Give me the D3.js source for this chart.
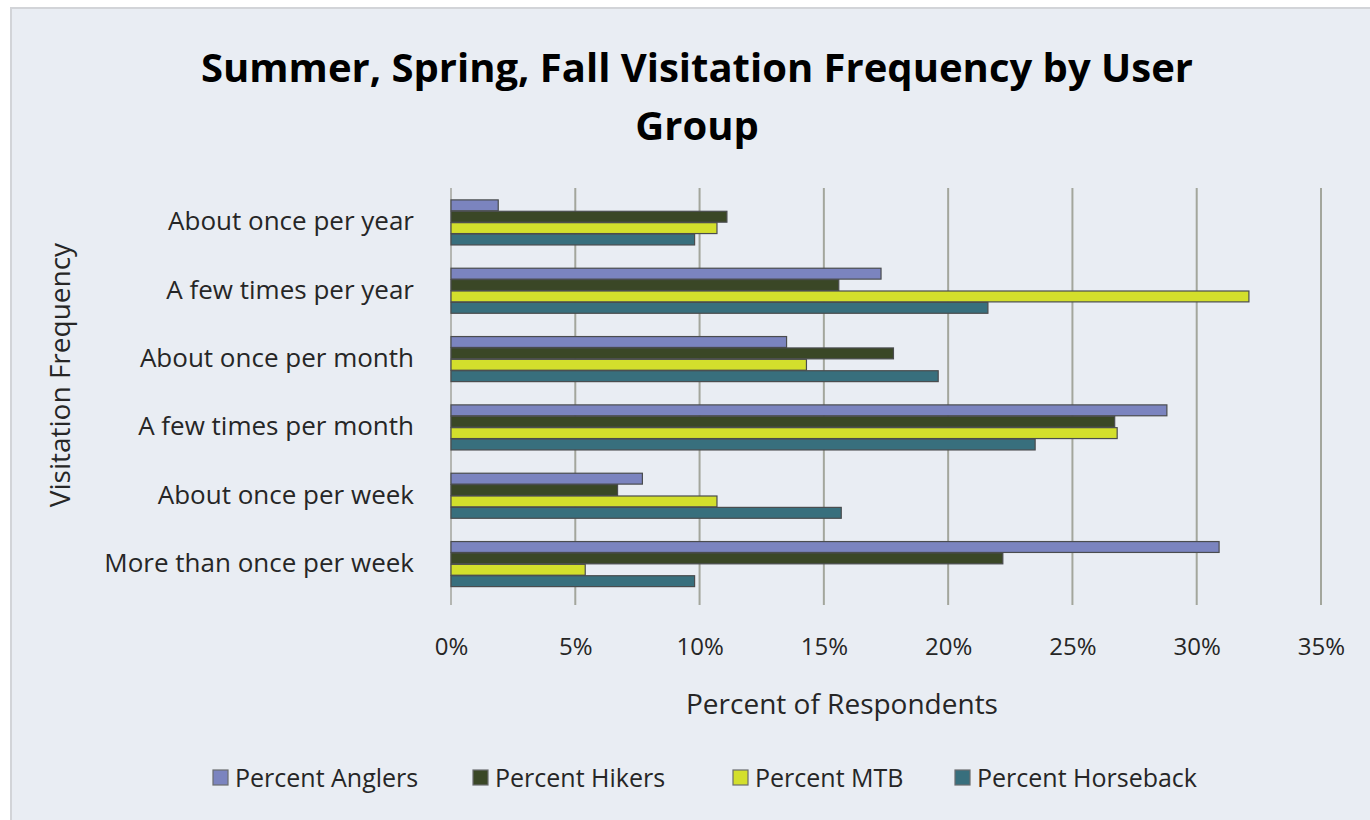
<!DOCTYPE html>
<html>
<head>
<meta charset="utf-8">
<script src="https://cdn.jsdelivr.net/npm/d3@7"></script>
<style>
  html, body { margin: 0; padding: 0; background: #fff; }
  svg { display: block; font-family: "Open Sans", "Noto Sans", sans-serif; }
</style>
</head>
<body>
<svg id="chart" width="1370" height="820"></svg>
<script>
const categories = [
  'About once per year',
  'A few times per year',
  'About once per month',
  'A few times per month',
  'About once per week',
  'More than once per week'
];
const seriesNames = ['Percent Anglers', 'Percent Hikers', 'Percent MTB', 'Percent Horseback'];
const anglers   = [1.9, 17.3, 13.5, 28.8, 7.7, 30.9];
const hikers    = [11.1, 15.6, 17.8, 26.7, 6.7, 22.2];
const mtb       = [10.7, 32.1, 14.3, 26.8, 10.7, 5.4];
const horseback = [9.8, 21.6, 19.6, 23.5, 15.7, 9.8];
const xTicks = [0, 5, 10, 15, 20, 25, 30, 35];

const colors = ['#7b84bf', '#3a4726', '#d3df2c', '#386f7d'];
const series = [anglers, hikers, mtb, horseback];

const width = 1370, height = 820;
const margin = { top: 188, right: 49, bottom: 222, left: 451 };

const svg = d3.select('#chart');

// chart background, border only shows on top/left
svg.append('rect')
  .attr('x', 11).attr('y', 8)
  .attr('width', width + 20).attr('height', height + 20)
  .attr('fill', '#e9edf3')
  .attr('stroke', '#d2d4d8')
  .attr('stroke-width', 2);

const x = d3.scaleLinear()
  .domain([0, 35])
  .range([margin.left, width - margin.right]);

const y = d3.scaleBand()
  .domain(categories)
  .range([margin.top, height - margin.bottom])
  .paddingInner(0.3333)
  .paddingOuter(0.1667);

const ySub = d3.scaleBand()
  .domain(seriesNames)
  .range([0, y.bandwidth()]);

// gridlines + ticks
const plotBottom = height - margin.bottom;
svg.append('g')
  .selectAll('line')
  .data(xTicks)
  .join('line')
  .attr('x1', d => x(d)).attr('x2', d => x(d))
  .attr('y1', margin.top).attr('y2', plotBottom + 7)
  .attr('stroke', d => d === 0 ? '#b4b6b2' : '#a3a69c')
  .attr('stroke-width', 2);

// x axis labels
const xAxis = svg.append('g')
  .attr('transform', `translate(0,${plotBottom})`)
  .call(d3.axisBottom(x).tickValues(xTicks).tickFormat(d => d + '%').tickSize(0).tickPadding(40));
xAxis.select('.domain').remove();
xAxis.selectAll('text')
  .attr('font-size', 24)
  .attr('fill', '#262626')
  .attr('font-family', '"Open Sans", sans-serif');

// y axis labels
const yAxis = svg.append('g')
  .attr('transform', `translate(${margin.left},0)`)
  .call(d3.axisLeft(y).tickSize(0).tickPadding(37));
yAxis.select('.domain').remove();
yAxis.selectAll('text')
  .attr('font-size', 26)
  .attr('fill', '#262626')
  .attr('font-family', '"Open Sans", sans-serif');

// bars
const groups = svg.append('g')
  .selectAll('g')
  .data(categories)
  .join('g')
  .attr('transform', d => `translate(0,${y(d)})`);

groups.selectAll('rect')
  .data((c, i) => seriesNames.map((s, j) => ({ s, j, v: series[j][i] })))
  .join('rect')
  .attr('x', x(0))
  .attr('y', d => ySub(d.s) + 0.5)
  .attr('width', d => x(d.v) - x(0))
  .attr('height', ySub.bandwidth() - 0.5)
  .attr('fill', d => colors[d.j])
  .attr('stroke', '#4a4c4e')
  .attr('stroke-width', 1.2);

// titles
svg.append('text')
  .attr('x', 697).attr('y', 82)
  .attr('text-anchor', 'middle')
  .attr('font-size', 40)
  .attr('font-weight', 'bold')
  .attr('fill', '#000')
  .text('Summer, Spring, Fall Visitation Frequency by User');
svg.append('text')
  .attr('x', 697).attr('y', 140)
  .attr('text-anchor', 'middle')
  .attr('font-size', 40)
  .attr('font-weight', 'bold')
  .attr('fill', '#000')
  .text('Group');

svg.append('text')
  .attr('x', 842)
  .attr('y', 714)
  .attr('text-anchor', 'middle')
  .attr('font-size', 28)
  .attr('fill', '#262626')
  .text('Percent of Respondents');

svg.append('text')
  .attr('transform', `translate(70,375) rotate(-90)`)
  .attr('text-anchor', 'middle')
  .attr('font-size', 28)
  .attr('fill', '#262626')
  .text('Visitation Frequency');

// legend
const legendX = [213, 473, 733, 955];
const legend = svg.append('g')
  .selectAll('g')
  .data(seriesNames)
  .join('g')
  .attr('transform', (d, i) => `translate(${legendX[i]},778)`);
legend.append('rect')
  .attr('x', 0).attr('y', -8)
  .attr('width', 15).attr('height', 15)
  .attr('fill', (d, i) => colors[i])
  .attr('stroke', '#6b6d6f')
  .attr('stroke-width', 1.2);
legend.append('text')
  .attr('x', 22).attr('y', 0)
  .attr('dy', '0.35em')
  .attr('font-size', 25)
  .attr('fill', '#262626')
  .text(d => d);
</script>
</body>
</html>
